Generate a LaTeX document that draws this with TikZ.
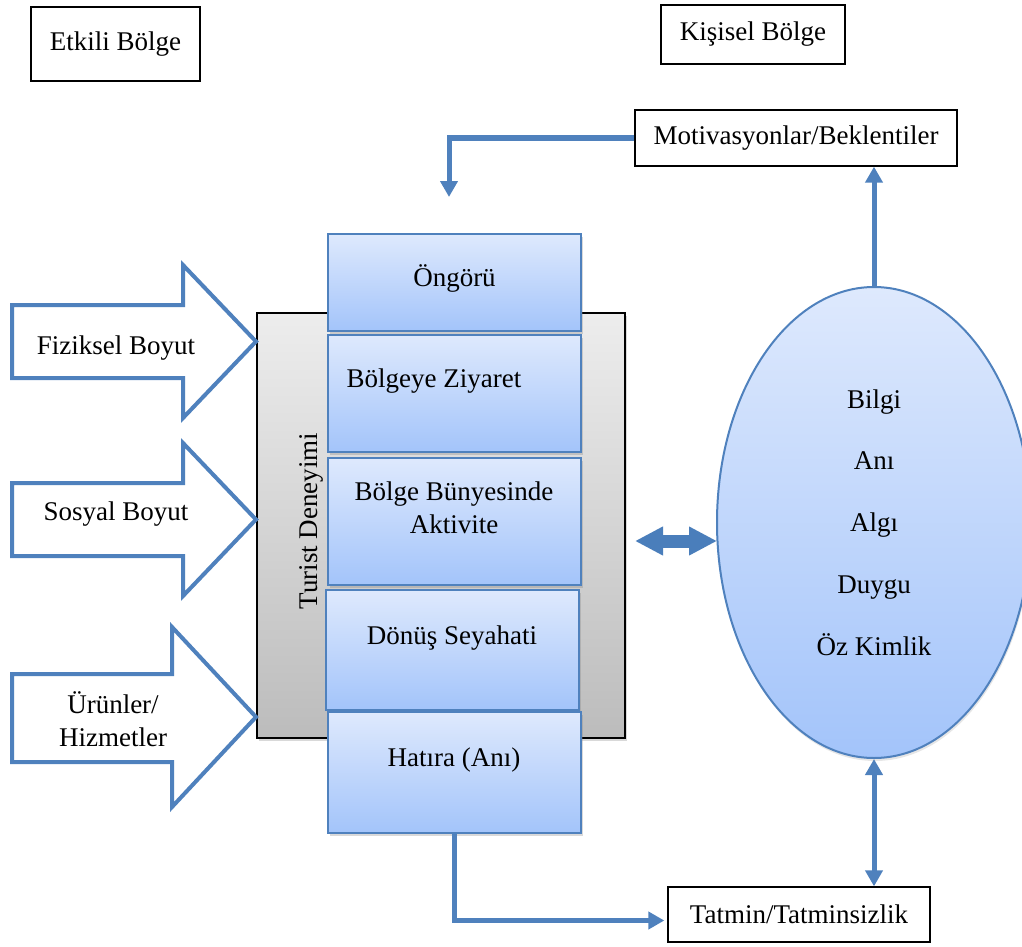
\documentclass[tikz,border=0pt]{standalone}
\usepackage{fontspec}
\setmainfont{Liberation Serif}
\usetikzlibrary{shapes.geometric,arrows.meta,shadows}
\definecolor{edgeblue}{RGB}{79,129,189}
\definecolor{darkblue}{RGB}{74,126,187}
\definecolor{paleblue}{RGB}{222,233,253}
\definecolor{deepblue}{RGB}{163,196,250}
\definecolor{graytop}{RGB}{237,237,237}
\definecolor{graybot}{RGB}{188,188,188}
\begin{document}
\begin{tikzpicture}[x=1pt,y=-1pt,font=\fontsize{27}{33.5}\selectfont,
  plain/.style={draw=black,line width=1.3pt,fill=white,inner sep=0pt},
  stage/.style={draw=edgeblue,line width=2pt,top color=paleblue,bottom color=deepblue,minimum width=253pt,inner sep=0pt,drop shadow={opacity=0.3,shadow xshift=2pt,shadow yshift=-3pt}},
  fat/.style={draw=edgeblue,line width=4pt,fill=white},
  link/.style={draw=edgeblue,line width=5pt,-{Triangle[length=16pt,width=17pt]}},
  twin/.style={draw=edgeblue,line width=5pt,{Triangle[length=16pt,width=17pt]}-{Triangle[length=16pt,width=17pt]}}]
\useasboundingbox (0,0) rectangle (1022,947);
\clip (0,0) rectangle (1022,947);

\node[plain,minimum width=169pt,minimum height=74pt] (etkili) at (115.5,44) {Etkili Bölge};
\node[plain,minimum width=184pt,minimum height=59pt] (kisisel) at (753,34.5) {Kişisel Bölge};
\node[plain,minimum width=322pt,minimum height=56pt] (motiv) at (796,138) {Motivasyonlar/Beklentiler};
\node[plain,minimum width=262pt,minimum height=55pt] (tatmin) at (799,914.5) {Tatmin/Tatminsizlik};

% turist deneyimi
\node[draw=black,line width=2pt,top color=graytop,bottom color=graybot,minimum width=368pt,minimum height=425pt,drop shadow={opacity=0.3,shadow xshift=2pt,shadow yshift=-3pt}] (turist) at (441,525.5) {};
\node[rotate=90] (turistlbl) at (311,521) {Turist Deneyimi};

\node[stage,minimum height=97pt] (ongoru) at (454.5,282.5) {};
\node[stage,minimum height=117pt] (ziyaret) at (454.5,393.5) {};
\node[stage,minimum height=127pt] (aktivite) at (454.5,521.5) {};
\node[stage,minimum height=120pt] (donus) at (452.5,650) {};
\node[stage,minimum height=121pt] (hatira) at (454,772.5) {};

\node (ongorulbl) at (454.5,278) {Öngörü};
\node (ziyaretlbl) at (434,381) {Bölgeye Ziyaret};
\node[align=center] (aktivitelbl) at (454,508) {Bölge Bünyesinde\\Aktivite};
\node (donuslbl) at (452,638) {Dönüş Seyahati};
\node (hatiralbl) at (454,760) {Hatıra (Anı)};

% boyutlar
\draw[fat] (12,305) -- (183,305) -- (183,265) -- (256,341.5) -- (183,418) -- (183,378) -- (12,378) -- cycle;
\draw[fat] (12,483) -- (183,483) -- (183,443) -- (256,519.5) -- (183,596) -- (183,556) -- (12,556) -- cycle;
\draw[fat] (12,674) -- (172,674) -- (172,627) -- (256,717) -- (172,807) -- (172,762) -- (12,762) -- cycle;
\node (fiziksel) at (116,348) {Fiziksel Boyut};
\node (sosyal) at (116,514) {Sosyal Boyut};
\node[align=center] (urunler) at (113,719) {Ürünler/\\Hizmetler};

% kisisel bellek
\node[ellipse,draw=edgeblue,line width=2pt,top color=paleblue,bottom color=deepblue,minimum width=314pt,minimum height=471pt,inner sep=0pt,align=center,font=\fontsize{27}{61.75}\selectfont,drop shadow={opacity=0.2,shadow xshift=1pt,shadow yshift=-3pt}] (bellek) at (874,522.5) {Bilgi\\Anı\\Algı\\Duygu\\Öz Kimlik};

\coordinate (mtip) at (449,197);
\coordinate (dleft) at (635,541);
\coordinate (dright) at (717,541);

\draw[link] (motiv.west) -| (mtip);
\draw[link] (bellek.north) -- (bellek.north |- motiv.south);
\draw[twin] (bellek.south) -- (bellek.south |- tatmin.north);
\draw[link] (hatira.south) |- ([xshift=-3pt,yshift=-6pt]tatmin.west);
\draw[darkblue,line width=13pt,{Triangle[length=28pt,width=27pt]}-{Triangle[length=28pt,width=27pt]}] (dleft) -- (dright);
\end{tikzpicture}
\end{document}
